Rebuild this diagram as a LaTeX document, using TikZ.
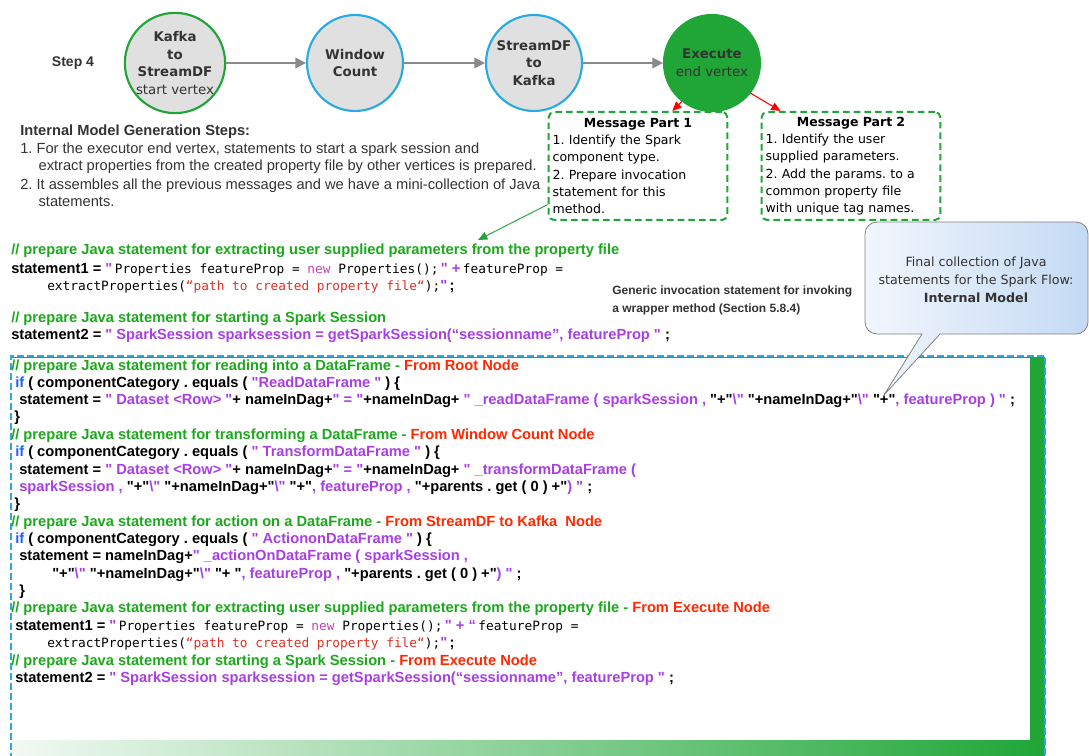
\documentclass[tikz,border=0pt]{standalone}
\usepackage{fontspec}
\setmainfont{Liberation Sans}
\setmonofont{DejaVu Sans Mono}
\newfontfamily\tahoma{DejaVu Sans}
\newfontfamily\codefont{Liberation Sans}
\usepackage{xcolor}
\usetikzlibrary{arrows.meta,positioning,calc}

\definecolor{vtxgreen}{RGB}{31,166,55}
\definecolor{vtxblue}{RGB}{41,171,226}
\definecolor{vtxfill}{RGB}{224,224,224}
\definecolor{flowgray}{RGB}{138,138,138}
\definecolor{txtgray}{RGB}{51,51,51}
\definecolor{cmtgreen}{RGB}{28,168,28}
\definecolor{nodered}{RGB}{255,40,0}
\definecolor{strpurple}{RGB}{168,62,228}
\definecolor{kwblue}{RGB}{32,96,255}
\definecolor{newpink}{RGB}{196,64,184}
\definecolor{pathred}{RGB}{226,46,36}
\definecolor{callL}{RGB}{242,246,253}
\definecolor{callR}{RGB}{196,218,244}
\definecolor{callgray}{RGB}{130,130,130}

% colouring of the java snippets
\newcommand{\cmt}[1]{\textcolor{cmtgreen}{#1}}
\newcommand{\frm}[1]{\textcolor{nodered}{#1}}
\newcommand{\jstr}[1]{\textcolor{strpurple}{#1}}
\newcommand{\kw}[1]{\textcolor{kwblue}{#1}}
\newcommand{\jnew}[1]{\textcolor{newpink}{#1}}
\newcommand{\jpath}[1]{\textcolor{pathred}{#1}}
\newcommand{\mono}[1]{{\fontsize{9.6}{13}\selectfont\ttfamily\mdseries #1}}
\newcommand{\bsl}{\textbackslash}

\begin{document}
\frenchspacing
\begin{tikzpicture}[x=0.75pt, y=-0.75pt,
    vertex/.style={circle, draw, line width=1.6pt, fill=vtxfill, minimum size=72pt, inner sep=0pt,
        align=center, text=txtgray, font=\tahoma\fontsize{10}{13.2}\selectfont\bfseries},
    flow/.style={draw=flowgray, line width=1.5pt, -{Triangle[length=8pt,width=8pt]}},
    redarrow/.style={draw=red, line width=0.8pt, -{Triangle[length=7pt,width=6pt]}},
    greenarrow/.style={draw=vtxgreen, line width=0.7pt, -{Triangle[length=7pt,width=6pt]}},
    msgbox/.style={draw=vtxgreen, line width=1.5pt, dash pattern=on 5pt off 3pt, rounded corners=4pt,
        minimum height=81pt, text width=128pt, inner sep=3pt, align=left,
        font=\tahoma\fontsize{9.4}{13}\selectfont},
    codeline/.style={anchor=base west, inner sep=0pt, font=\codefont\fontsize{11}{13}\selectfont\bfseries}
]
\useasboundingbox (0,0) rectangle (1089,756);

% step 4 graph
\node[font=\bfseries\fontsize{10.5}{12}\selectfont, text=txtgray] (step) at (73,63) {Step 4};
\node[vertex, draw=vtxgreen] (kafka) at (175,63) {Kafka\\to\\StreamDF\\\mdseries start vertex};
\node[vertex, draw=vtxblue] (window) at (355,63) {Window\\Count};
\node[vertex, draw=vtxblue] (streamdf) at (534,63) {StreamDF\\to\\Kafka};
\node[vertex, draw=vtxgreen, fill=vtxgreen] (execute) at (712,63) {Execute\\\mdseries end vertex};

\draw[flow] (kafka) -- (window);
\draw[flow] (window) -- (streamdf);
\draw[flow] (streamdf) -- (execute);

% message parts of the end vertex
\node[msgbox] (msgone) at (638,166) {\makebox[128pt]{\bfseries Message Part 1}\\
    1. Identify the Spark\\component type.\\2. Prepare invocation\\statement for this\\method.};
\node[msgbox] (msgtwo) at (851,166) {\makebox[128pt]{\bfseries Message Part 2}\\
    1. Identify the user\\supplied parameters.\\2. Add the params. to a\\common property file\\with unique tag names.};

\draw[redarrow] (execute.-128) -- ($(msgone.north east)!0.62!(msgone.north)$);
\draw[redarrow] (execute.-38) -- ($(msgtwo.north west)!0.22!(msgtwo.north)$);

% steps text
\node[anchor=north west, align=left, inner sep=0pt, text=txtgray, font=\fontsize{11}{12.4}\selectfont]
    (steps) at (20,125) {\textbf{Internal Model Generation Steps:}\\[1pt]
    1. For the executor end vertex, statements to start a spark session and\\
    \hspace*{1.25em}extract properties from the created property file by other vertices is prepared.\\[2.2pt]
    2. It assembles all the previous messages and we have a mini-collection of Java\\
    \hspace*{1.25em}statements.};

% statements of the end vertex
\node[codeline] (propcmt) at (11,254) {\cmt{// prepare Java statement for extracting user supplied parameters from the property file}};
\node[codeline] (propone) at (11,273) {statement1 = \jstr{"}\,\mono{Properties featureProp = \jnew{new} Properties();}\,\jstr{" +}\,\mono{featureProp =}};
\node[codeline] (proptwo) at (47,290) {\mono{extractProperties(\jpath{“path to created property file“});}\jstr{"}\,;};
\node[codeline] (sesscmt) at (11,322) {\cmt{// prepare Java statement for starting a Spark Session}};
\node[codeline] (sessone) at (11,339) {statement2 = \jstr{" SparkSession sparksession = getSparkSession(“sessionname”, featureProp "} ;};

\node[anchor=north west, align=left, inner sep=0pt, text=txtgray, font=\bfseries\fontsize{9}{12.8}\selectfont]
    (generic) at (612,286) {Generic invocation statement for invoking\\a wrapper method (Section 5.8.4)};
\coordinate (invtip) at (478,240);
\draw[greenarrow] ($(msgone.south west)!0.15!(msgone.north west)$) -- (invtip);

% internal model box
\fill[vtxgreen] (1030,358) rectangle (1045,741);
\shade[left color=vtxgreen!6, right color=vtxgreen] (12,740) rectangle (1045,756);
\draw[vtxgreen, line width=0.6pt] (11,357) -- (1045,357);
\draw[vtxblue, line width=1.2pt, dash pattern=on 5pt off 2.5pt] (11,760) -- (11,356) -- (1045,356) -- (1045,760);

\node[codeline] (readcmt) at (11,370) {\cmt{// prepare Java statement for reading into a DataFrame - }\frm{From Root Node}};
\node[codeline] (readif) at (15,387) {\kw{if} ( componentCategory . equals ( \jstr{"ReadDataFrame "} ) \{};
\node[codeline] (readst) at (19,404) {statement = \jstr{" Dataset <Row> "}+ nameInDag+\jstr{" = "}+nameInDag+ \jstr{" \_readDataFrame ( sparkSession , }"+"\jstr{ \bsl" }"+nameInDag+"\jstr{ \bsl" }"+"\jstr{ , featureProp ) "} ;};
\node[codeline] (readend) at (14,421) {\}};
\node[codeline] (trancmt) at (11,439) {\cmt{// prepare Java statement for transforming a DataFrame - }\frm{From Window Count Node}};
\node[codeline] (tranif) at (15,456) {\kw{if} ( componentCategory . equals ( \jstr{" TransformDataFrame "} ) \{};
\node[codeline] (transt) at (19,474) {statement = \jstr{" Dataset <Row> "}+ nameInDag+\jstr{" = "}+nameInDag+ \jstr{" \_transformDataFrame (}};
\node[codeline] (transtb) at (19,491) {\jstr{sparkSession , }"+"\jstr{ \bsl" }"+nameInDag+"\jstr{ \bsl" }"+"\jstr{ , featureProp , }"+parents . get ( 0 ) +"\jstr{ ) "} ;};
\node[codeline] (tranend) at (14,508) {\}};
\node[codeline] (actcmt) at (11,526) {\cmt{// prepare Java statement for action on a DataFrame - }\frm{From StreamDF to Kafka\ \ Node}};
\node[codeline] (actif) at (15,543) {\kw{if} ( componentCategory . equals ( \jstr{" ActiononDataFrame "} ) \{};
\node[codeline] (actst) at (19,560) {statement = nameInDag+\jstr{" \_actionOnDataFrame ( sparkSession ,}};
\node[codeline] (actstb) at (52,578) {"+"\jstr{ \bsl" }"+nameInDag+"\jstr{ \bsl" }"+ "\jstr{ , featureProp , }"+parents . get ( 0 ) +"\jstr{ ) "} ;};
\node[codeline] (actend) at (19,595) {\}};
\node[codeline] (execcmt) at (11,612) {\cmt{// prepare Java statement for extracting user supplied parameters from the property file - }\frm{From Execute Node}};
\node[codeline] (execone) at (15,630) {statement1 = \jstr{"}\,\mono{Properties featureProp = \jnew{new} Properties();}\,\jstr{" + “}\,\mono{featureProp =}};
\node[codeline] (exectwo) at (47,647) {\mono{extractProperties(\jpath{“path to created property file“});}\jstr{"}\,;};
\node[codeline] (sesscmtb) at (11,665) {\cmt{// prepare Java statement for starting a Spark Session - }\frm{From Execute Node}};
\node[codeline] (sessoneb) at (15,682) {statement2 = \jstr{" SparkSession sparksession = getSparkSession(“sessionname”, featureProp "} ;};

% callout
\shade[left color=callL, right color=callR, draw=callgray, line width=0.6pt]
    (865,280) [rounded corners=9pt] -- (865,222) -- (1088,222) -- (1088,334)
    [sharp corners] -- (940,334) -- (884,395) -- (922,334)
    [rounded corners=9pt] -- (865,334) -- cycle;
\node[align=center, text=txtgray, font=\tahoma\fontsize{9.5}{13.5}\selectfont] (calltext) at (976,280)
    {Final collection of Java\\statements for the Spark Flow:\\\textbf{Internal Model}};
\end{tikzpicture}
\end{document}
